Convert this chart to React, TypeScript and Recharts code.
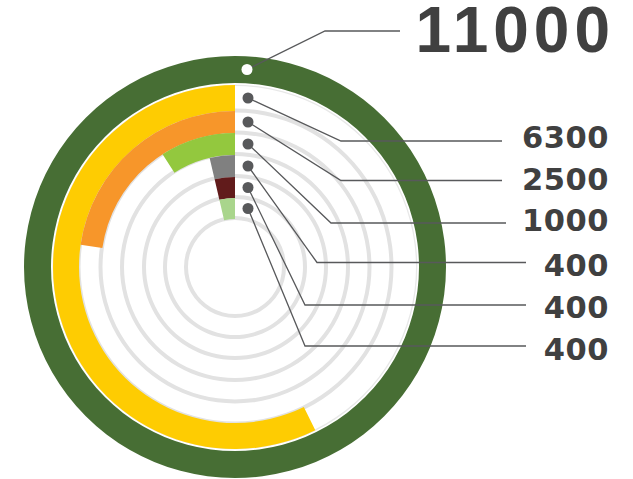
import { PieChart, Pie, Cell } from "recharts";

// values
const totalValue = 11000;
const totalLabel = "11000";
const segmentValues = [6300, 2500, 1000, 400, 400, 400];
const segmentLabels = ["6300", "2500", "1000", "400", "400", "400"];

// styling / layout
const CX = 235;
const CY = 267;
const TEXT_COLOR = "#404040";
const LINE_COLOR = "#58595b";
const TRACK_COLOR = "#e2e2e2";
const OUTER_COLOR = "#476e34";

const segmentColors = ["#fecc02", "#f7962a", "#93c83e", "#808080", "#611b1b", "#a9d58c"];
const segmentRadii = [
  [156, 182],
  [134, 156],
  [112, 134],
  [90, 112],
  [69, 90],
  [48, 69],
];
const trackRadii = [49, 70, 91, 113, 134.5, 156.5];

// [elbowX, lineY, lineEndX, textBaseline]
const leaderLayout = [
  [341, 141, 502, 147.5],
  [341, 180.5, 502, 190],
  [331, 223, 506, 231],
  [317, 262.5, 526, 276],
  [305, 305, 526, 318],
  [305, 346, 526, 360],
];

const segmentLabel = (i: number) => (props: any) => {
  if (props.index !== 0) return null;
  const { cx, cy, innerRadius, outerRadius } = props;
  const dotX = cx + 13;
  const dotY = cy - (innerRadius + outerRadius) / 2;
  const [ex, ly, endX, baseY] = leaderLayout[i];
  return (
    <g>
      <polyline
        points={`${dotX},${dotY} ${ex},${ly} ${endX},${ly}`}
        fill="none"
        stroke={LINE_COLOR}
        strokeWidth={1.3}
      />
      <circle cx={dotX} cy={dotY} r={5.5} fill={LINE_COLOR} />
      <text
        x={609}
        y={baseY}
        textAnchor="end"
        fontFamily="DejaVu Sans"
        fontWeight="bold"
        fontSize={30.5}
        letterSpacing={0.5}
        fill={TEXT_COLOR}
      >
        {segmentLabels[i]}
      </text>
    </g>
  );
};

const totalLabelRender = (props: any) => {
  const { cx, cy, innerRadius, outerRadius } = props;
  const dotX = cx + 12;
  const dotY = cy - (innerRadius + outerRadius) / 2;
  return (
    <g>
      <polyline
        points={`${dotX},${dotY} 325,31 400,31`}
        fill="none"
        stroke={LINE_COLOR}
        strokeWidth={1.3}
      />
      <circle cx={dotX} cy={dotY} r={5.5} fill="#ffffff" />
      <text
        x={615}
        y={51.5}
        textAnchor="end"
        fontFamily="Liberation Sans, Arial"
        fontWeight="bold"
        fontSize={64}
        letterSpacing={5}
        fill={TEXT_COLOR}
      >
        {totalLabel}
      </text>
    </g>
  );
};

export default function App() {
  const trackData = [{ value: totalValue }];
  return (
    <div style={{ position: "absolute", left: 0, top: 0 }}>
      <PieChart width={633} height={479} margin={{ top: 0, right: 0, bottom: 0, left: 0 }}>
        {trackRadii.map((r, i) => (
          <Pie
            key={`track-${i}`}
            data={trackData}
            dataKey="value"
            cx={CX}
            cy={CY}
            innerRadius={r - 2}
            outerRadius={r + 2}
            startAngle={90}
            endAngle={450}
            stroke="none"
            fill={TRACK_COLOR}
            isAnimationActive={false}
          />
        ))}
        <Pie
          data={trackData}
          dataKey="value"
          cx={CX}
          cy={CY}
          innerRadius={181}
          outerRadius={182.3}
          startAngle={90}
          endAngle={450}
          stroke="none"
          fill="#e8e8e8"
          isAnimationActive={false}
        />
        <Pie
          data={[{ value: totalValue }]}
          dataKey="value"
          cx={CX}
          cy={CY}
          innerRadius={184}
          outerRadius={211}
          startAngle={90}
          endAngle={450}
          stroke="none"
          fill={OUTER_COLOR}
          label={totalLabelRender}
          labelLine={false}
          isAnimationActive={false}
        />
        {segmentValues.map((v, i) => (
          <Pie
            key={`seg-${i}`}
            data={[{ value: v }, { value: totalValue - v }]}
            dataKey="value"
            cx={CX}
            cy={CY}
            innerRadius={segmentRadii[i][0]}
            outerRadius={segmentRadii[i][1]}
            startAngle={90}
            endAngle={450}
            stroke="none"
            label={segmentLabel(i)}
            labelLine={false}
            isAnimationActive={false}
          >
            <Cell fill={segmentColors[i]} />
            <Cell fill="transparent" />
          </Pie>
        ))}
      </PieChart>
    </div>
  );
}
